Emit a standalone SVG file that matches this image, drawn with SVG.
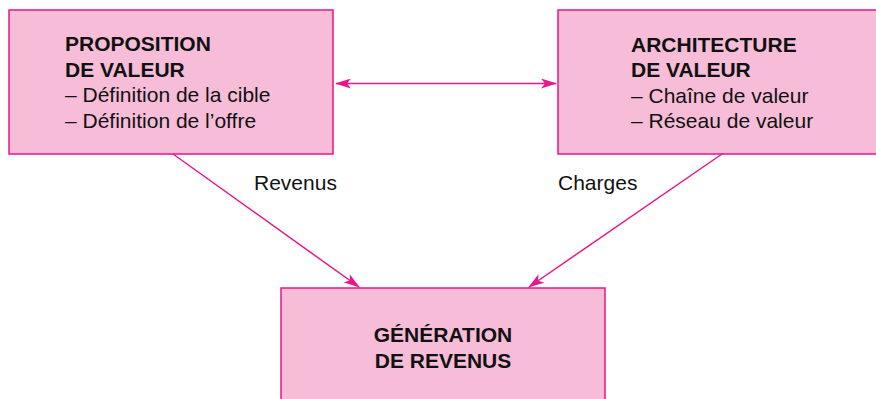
<svg xmlns="http://www.w3.org/2000/svg" width="876" height="399" viewBox="0 0 876 399">
  <style>
    .box { fill: #F7BDD8; stroke: #E8168A; stroke-width: 1.5; }
    .link { stroke: #E8168A; stroke-width: 1.5; fill: none; }
    .t { font-family: "Liberation Sans", Arial, sans-serif; font-size: 21px; fill: #111; }
    .b { font-weight: bold; }
  </style>
  <defs>
    <marker id="arrow" viewBox="0 0 16 10" refX="15" refY="5" markerWidth="16" markerHeight="10" markerUnits="userSpaceOnUse" orient="auto-start-reverse">
      <path d="M0,0 L16,5 L0,10 L4,5 Z" fill="#E8168A"/>
    </marker>
  </defs>

  <g id="proposition">
    <rect class="box" x="9" y="10" width="324" height="144"/>
    <text class="t b" x="65" y="51">PROPOSITION</text>
    <text class="t b" x="65" y="76.5">DE VALEUR</text>
    <text class="t" x="65" y="102">– Définition de la cible</text>
    <text class="t" x="65" y="127.5">– Définition de l’offre</text>
  </g>

  <g id="architecture">
    <rect class="box" x="558" y="10" width="330" height="144"/>
    <text class="t b" x="631" y="51.5">ARCHITECTURE</text>
    <text class="t b" x="631" y="77">DE VALEUR</text>
    <text class="t" x="631" y="102.5">– Chaîne de valeur</text>
    <text class="t" x="631" y="128">– Réseau de valeur</text>
  </g>

  <g id="generation">
    <rect class="box" x="281" y="288" width="324" height="130"/>
    <text class="t b" x="443" y="342" text-anchor="middle">GÉNÉRATION</text>
    <text class="t b" x="443" y="367.5" text-anchor="middle">DE REVENUS</text>
  </g>

  <g id="connectors">
    <line class="link" x1="336" y1="83.5" x2="556" y2="83.5" marker-start="url(#arrow)" marker-end="url(#arrow)"/>
    <line class="link" x1="173" y1="154" x2="359" y2="287" marker-end="url(#arrow)"/>
    <line class="link" x1="722" y1="154" x2="529" y2="287" marker-end="url(#arrow)"/>
    <text class="t" x="254" y="190">Revenus</text>
    <text class="t" x="558" y="190">Charges</text>
  </g>
</svg>
